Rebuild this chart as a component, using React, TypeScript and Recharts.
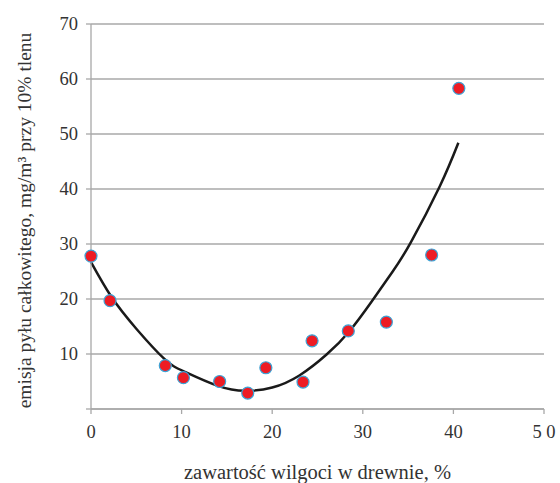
import React from "react";
import {
  ComposedChart,
  Scatter,
  Line,
  XAxis,
  YAxis,
  CartesianGrid,
} from "recharts";

// pomiary: wilgotność drewna [%] i emisja pyłu [mg/m3]
const moisture = [0, 2.1, 8.2, 10.2, 14.2, 17.3, 19.3, 23.4, 24.4, 28.4, 32.6, 37.6, 40.6];
const emission = [27.8, 19.7, 7.9, 5.7, 5.0, 2.9, 7.5, 4.9, 12.4, 14.2, 15.8, 28.0, 58.3];

// linia trendu
const trendX = [0, 2.25, 5, 8.1, 10.3, 14, 17, 20, 23, 26, 28.5, 31, 33.3, 35.3, 38.5, 40.55];
const trendY = [26.7, 20.4, 14.6, 9.1, 6.8, 4.2, 3.3, 3.9, 6.1, 9.9, 14.1, 19.6, 25.0, 30.3, 40.5, 48.4];

const xTicks = [0, 10, 20, 30, 40, 50];
const yTicks = [0, 10, 20, 30, 40, 50, 60, 70];

const FONT = "'Liberation Serif', 'Times New Roman', serif";
const GRID = "#a8a8a8";
const TEXT = "#333333";

const points = moisture.map((x, i) => ({ x, y: emission[i] }));
const trend = trendX.map((x, i) => ({ x, y: trendY[i] }));

function Dot(props: any) {
  const { cx, cy } = props;
  return <circle cx={cx} cy={cy} r={6} fill="#ed1c24" stroke="#3ba3d6" strokeWidth={1.2} />;
}

function XTick(props: any) {
  const { x, y, payload } = props;
  const v = payload.value;
  return (
    <text x={x} y={y + 9} textAnchor="middle" dominantBaseline="hanging" fill={TEXT} fontSize={18.5} style={{ fontFamily: FONT }}>
      {v === 50 ? "5 0" : String(v)}
    </text>
  );
}

function YTick(props: any) {
  const { x, y, payload } = props;
  const v = payload.value;
  if (v === 0) return null;
  return (
    <text x={x - 6} y={y} textAnchor="end" dominantBaseline="central" fill={TEXT} fontSize={18.5} style={{ fontFamily: FONT }}>
      {String(v)}
    </text>
  );
}

export default function App() {
  return (
    <div
      style={{
        position: "absolute",
        left: 0,
        top: 0,
        width: 560,
        height: 483,
        background: "#fff",
        fontFamily: FONT,
      }}
    >
      <ComposedChart
        width={560}
        height={483}
        margin={{ top: 24, right: 16, bottom: 10, left: 20 }}
      >
        <CartesianGrid vertical={false} stroke={GRID} strokeWidth={1.3} />
        <XAxis
          dataKey="x"
          type="number"
          domain={[0, 50]}
          ticks={xTicks}
          height={64}
          stroke={GRID}
          strokeWidth={1.3}
          tickSize={5}
          tick={XTick}
          label={(p: any) => {
            const vb = p.viewBox;
            return (
              <text
                x={vb.x + vb.width / 2}
                y={vb.y + 63}
                textAnchor="middle"
                dominantBaseline="central"
                fill={TEXT}
                fontSize={20.5}
                style={{ fontFamily: FONT }}
              >
                zawartość wilgoci w drewnie, %
              </text>
            );
          }}
        />
        <YAxis
          dataKey="y"
          type="number"
          domain={[0, 70]}
          ticks={yTicks}
          width={71}
          stroke={GRID}
          strokeWidth={1.3}
          tickSize={5}
          tick={YTick}
          label={(p: any) => {
            const vb = p.viewBox;
            const x = vb.x + 4;
            const y = vb.y + vb.height / 2 + 4;
            return (
              <text
                x={x}
                y={y}
                transform={`rotate(-90, ${x}, ${y})`}
                textAnchor="middle"
                dominantBaseline="central"
                fill={TEXT}
                fontSize={19.5}
                style={{ fontFamily: FONT }}
              >
                emisja pyłu całkowitego, mg/m³ przy 10% tlenu
              </text>
            );
          }}
        />
        <Line
          data={trend}
          dataKey="y"
          type="natural"
          stroke="#1a1a1a"
          strokeWidth={2.5}
          dot={false}
          activeDot={false}
          isAnimationActive={false}
        />
        <Scatter data={points} dataKey="y" shape={Dot} isAnimationActive={false} />
      </ComposedChart>
    </div>
  );
}
